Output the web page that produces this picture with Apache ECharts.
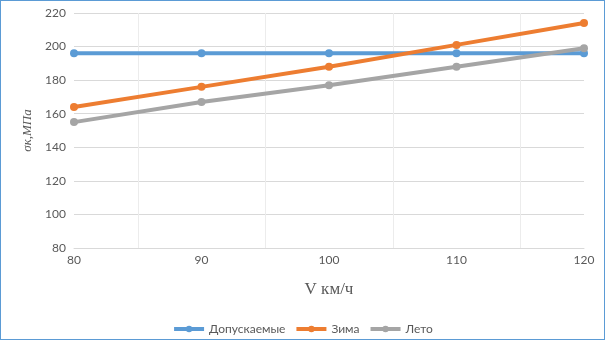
<!DOCTYPE html>
<html><head><meta charset="utf-8">
<script src="https://cdn.jsdelivr.net/npm/echarts@6/dist/echarts.min.js"></script>
<style>
html,body{margin:0;padding:0;background:#fff;}
#c{position:absolute;left:0;top:0;width:603px;height:338px;border:1px solid #5b9bd5;}
</style></head><body>
<div id="c"></div>
<script>
const speeds = [80, 90, 100, 110, 120];
const allowed = [196, 196, 196, 196, 196];
const winter = [164, 176, 188, 201, 214];
const summer = [155, 167, 177, 188, 199];
const seriesNames = ['Допускаемые', 'Зима', 'Лето'];
const colors = ['#5b9bd5', '#ed7d31', '#a5a5a5'];

const chart = echarts.init(document.getElementById('c'), null, {renderer: 'canvas'});
const mk = (name, vals, color) => ({
  name, type: 'line', data: speeds.map((s, i) => [s, vals[i]]),
  symbol: 'circle', symbolSize: 8, showSymbol: true,
  lineStyle: {width: 4, color}, itemStyle: {color}, z: 3
});
chart.setOption({
  animation: false,
  grid: {left: 73, right: 20, top: 12, bottom: 91},
  xAxis: {
    type: 'value', min: 80, max: 120, interval: 10,
    name: 'V км/ч', nameLocation: 'middle', nameGap: 33,
    nameTextStyle: {fontFamily: 'Liberation Serif', fontSize: 17, color: '#595959'},
    axisLine: {show: true, lineStyle: {color: '#d9d9d9', width: 1}},
    axisTick: {show: false},
    axisLabel: {fontFamily: 'Lato', fontSize: 12, color: '#595959', margin: 6},
    splitLine: {show: false},
    minorTick: {show: false, splitNumber: 2},
    minorSplitLine: {show: true, lineStyle: {color: '#ececec', width: 1}}
  },
  yAxis: {
    type: 'value', min: 80, max: 220, interval: 20,
    name: 'σк,МПа', nameLocation: 'middle', nameGap: 40, nameRotate: 90,
    nameTextStyle: {fontFamily: 'Liberation Serif', fontStyle: 'italic', fontSize: 13, color: '#595959'},
    axisLine: {show: false}, axisTick: {show: false},
    axisLabel: {fontFamily: 'Lato', fontSize: 12, color: '#595959', margin: 8},
    splitLine: {show: true, lineStyle: {color: '#d9d9d9', width: 1}}
  },
  legend: {
    top: 317, left: 'center', itemWidth: 30, itemHeight: 8, itemGap: 9,
    lineStyle: {width: 4},
    textStyle: {fontFamily: 'Lato', fontSize: 12, color: '#595959'},
    data: seriesNames
  },
  series: [
    mk(seriesNames[0], allowed, colors[0]),
    mk(seriesNames[1], winter, colors[1]),
    mk(seriesNames[2], summer, colors[2])
  ]
});
</script>
</body></html>
